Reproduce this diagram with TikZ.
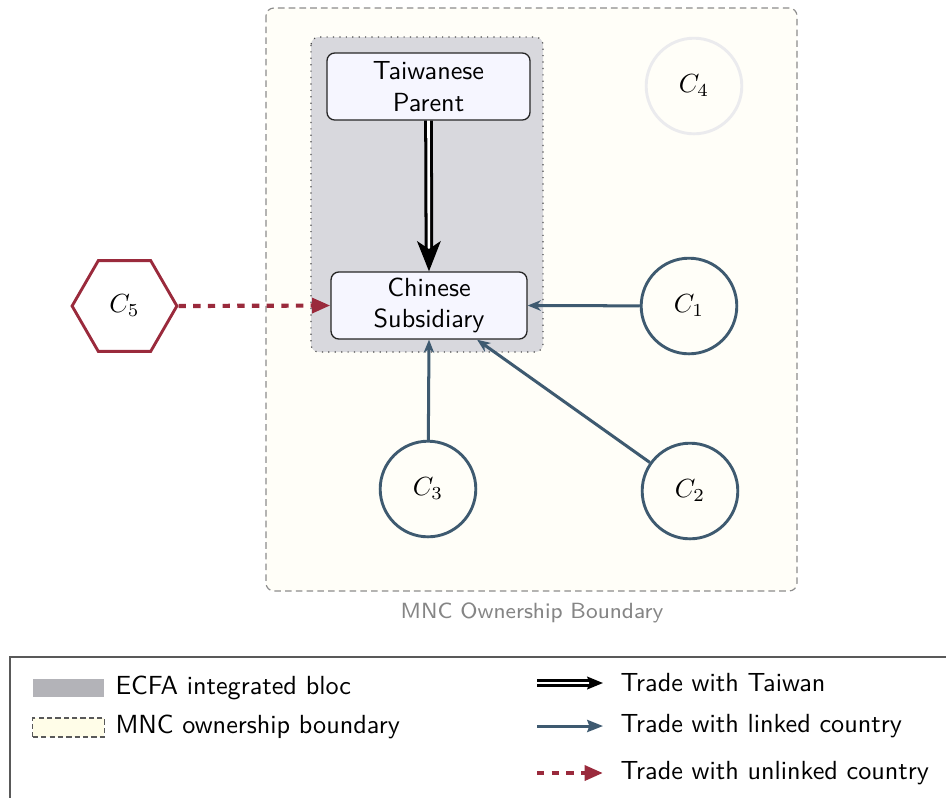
\documentclass[tikz,border=0pt]{standalone}
\usetikzlibrary{arrows.meta,shapes.geometric}
\definecolor{linkblue}{HTML}{3E5A70}
\definecolor{unlinkred}{HTML}{9A2A3C}
\definecolor{blocgray}{HTML}{D8D8DD}
\definecolor{legendgray}{HTML}{B3B3B8}
\definecolor{mncfill}{HTML}{FFFEF8}
\definecolor{mnclegend}{HTML}{FFFDE8}
\definecolor{boxfill}{HTML}{F6F6FF}
\definecolor{ghost}{HTML}{EBEBEE}
\tikzset{
  firm/.style={draw=black!85, fill=boxfill, rounded corners=3pt, align=center,
    minimum height=25.6pt, inner sep=2pt, font=\sffamily, line width=0.5pt},
  country/.style={circle, draw=linkblue, line width=1.1pt, minimum size=36.5pt, inner sep=0pt},
  taiwanflow/.style={draw=black, double=white, double distance=1pt, line width=1.15pt,
    -{Stealth[length=11.5pt,width=9pt,inset=3pt]}},
  linkflow/.style={draw=linkblue, line width=1.15pt, -{Stealth[length=5pt,width=4pt,inset=1.5pt]}},
  unlinkflow/.style={draw=unlinkred, line width=1.6pt, dash pattern=on 2.8pt off 2.8pt,
    -{Triangle[length=7pt,width=5.6pt]}},
  legendtext/.style={anchor=west, font=\sffamily, inner sep=0pt},
}
\begin{document}
\begin{tikzpicture}[x=0.3817pt, y=-0.3817pt]
\useasboundingbox (0,0) rectangle (946,797);
\clip (0,0) rectangle (946,797);

% MNC ownership boundary
\draw[draw=black!45, fill=mncfill, line width=0.45pt, dash pattern=on 2.5pt off 1.6pt,
  rounded corners=3pt] (266,8) rectangle (797,591);
\node[font=\sffamily\fontsize{8.4}{10}\selectfont, text=black!48] (mnclabel) at (532,613)
  {MNC Ownership Boundary};

% ECFA integrated bloc
\draw[fill=blocgray, draw=black!70, dotted, line width=0.45pt, rounded corners=3pt]
  (311,37) rectangle (543,352);

% Firms
\node[firm, minimum width=77.5pt] (parent) at (428.5,86.5) {Taiwanese\\Parent};
\node[firm, minimum width=74.8pt] (sub) at (429,305.5) {Chinese\\Subsidiary};

% Countries
\node[country] (c1) at (689,306) {$C_1$};
\node[country] (c2) at (690,491) {$C_2$};
\node[country] (c3) at (428,489) {$C_3$};
\node[country, draw=ghost] (c4) at (694,86) {$C_4$};
\node[regular polygon, regular polygon sides=6, draw=unlinkred, line width=1.1pt,
  minimum size=40pt, inner sep=0pt] (c5) at (124.5,306) {$C_5$};

% Trade flows
\draw[taiwanflow] (parent.south) -- (sub.north);
\draw[linkflow] (c1) -- (sub.east);
\draw[linkflow] (c2) -- (sub);
\draw[linkflow] (c3) -- (sub.south);
\draw[unlinkflow] (c5.east) -- (sub.west);

% Legend
\draw[draw=black!65, line width=0.5pt] (10,657) rectangle (1000,830);
\node[fill=legendgray, minimum width=27.3pt, minimum height=7.2pt, inner sep=0pt]
  (lbloc) at (68.5,688) {};
\node[legendtext] (tbloc) at (115,688) {ECFA integrated bloc};
\node[fill=mnclegend, draw=black!65, dash pattern=on 2pt off 1.2pt, line width=0.5pt,
  minimum width=27.3pt, minimum height=7.2pt, inner sep=0pt] (lmnc) at (68.5,727.5) {};
\node[legendtext] (tmnc) at (115,727) {MNC ownership boundary};

\coordinate (a1s) at (537,683);
\coordinate (a1e) at (603,683);
\coordinate (a2s) at (537,726);
\coordinate (a2e) at (603,726);
\coordinate (a3s) at (537,773);
\coordinate (a3e) at (603,773);
\draw[taiwanflow, line width=1pt, double distance=0.85pt,
  -{Stealth[length=6pt,width=4.8pt,inset=0.8pt]}] (a1s) -- (a1e);
\draw[linkflow, -{Stealth[length=6pt,width=4.6pt,inset=0.8pt]}] (a2s) -- (a2e);
\draw[unlinkflow] (a3s) -- (a3e);
\node[legendtext] (ttw) at (620,683) {Trade with Taiwan};
\node[legendtext] (tlink) at (620,726) {Trade with linked country};
\node[legendtext] (tunlink) at (620,773) {Trade with unlinked country};
\end{tikzpicture}
\end{document}
